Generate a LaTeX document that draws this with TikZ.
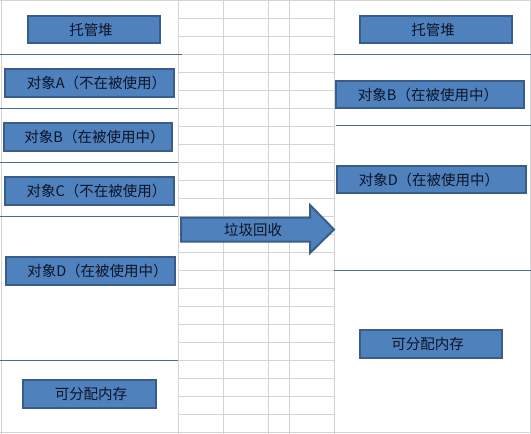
\documentclass[tikz,border=0pt]{standalone}
\usepackage{fontspec}
\newfontfamily\cjk{Noto Sans CJK SC}
\definecolor{boxfill}{HTML}{4F81BD}
\definecolor{boxline}{HTML}{385D8A}
\definecolor{sepline}{HTML}{4A6B92}
\definecolor{gridc}{HTML}{D4D4D4}
\definecolor{txt}{HTML}{0C1428}
\tikzset{
  box/.style={draw=boxline, fill=boxfill, line width=2.2pt, inner sep=0pt,
    text=txt, font=\cjk\fontsize{14.5}{15}\selectfont},
  sep/.style={draw=sepline, line width=0.9pt},
  gridl/.style={draw=gridc, line width=0.7pt},
  lbl/.style={text=txt, font=\cjk\fontsize{14.5}{15}\selectfont, inner sep=0pt}
}
\begin{document}
\begin{tikzpicture}[x=1pt,y=-1pt]
\useasboundingbox (0,0) rectangle (531,434);
\fill[white] (0,0) rectangle (531,434);
% grid in middle
\foreach \yy in {18,36,...,432} \draw[gridl] (178,\yy) -- (334,\yy);
\foreach \xx in {178,223,268,289,334} \draw[gridl] (\xx,0) -- (\xx,434);
\draw[gridl] (1,0) -- (1,434);
\draw[gridl] (530,0) -- (530,434);
\draw[gridl] (0,432.5) -- (531,432.5);
\draw[gridl] (0,0.5) -- (531,0.5);
% separators left
\draw[sep] (0,54) -- (182,54);
\draw[sep] (0,108) -- (178,108);
\draw[sep] (0,162) -- (178,162);
\draw[sep] (0,216) -- (178,216);
\draw[sep] (0,360) -- (178,360);
% separators right
\draw[sep] (334,54) -- (531,54);
\draw[sep] (336,125) -- (531,125);
\draw[sep] (334,270) -- (531,270);
% left boxes
\node[box, minimum width=132pt, minimum height=27pt] (l0) at (94,29.5) {托管堆\hspace*{6pt}};
\node[box, minimum width=169pt, minimum height=28pt] (la) at (89.5,83) {\hspace*{14pt}对象A（不在被使用）};
\node[box, minimum width=168pt, minimum height=28pt] (lb) at (88,137) {\hspace*{13pt}对象B（在被使用中）};
\node[box, minimum width=169pt, minimum height=28pt] (lc) at (89.5,191) {\hspace*{14pt}对象C（不在被使用）};
\node[box, minimum width=169pt, minimum height=28pt] (ld) at (90.5,271) {\hspace*{14pt}对象D（在被使用中）};
\node[box, minimum width=133pt, minimum height=28pt] (lm) at (89.5,394) {\hspace*{3pt}可分配内存};
% right boxes
\node[box, minimum width=152pt, minimum height=27pt] (r0) at (436,29.5) {托管堆\hspace*{6pt}};
\node[box, minimum width=188pt, minimum height=27pt] (rb) at (430,94.5) {对象B（在被使用中）\hspace*{4pt}};
\node[box, minimum width=189pt, minimum height=27pt] (rd) at (431.5,179.5) {对象D（在被使用中）\hspace*{5pt}};
\node[box, minimum width=142pt, minimum height=28pt] (rm) at (431,344) {可分配内存\hspace*{7pt}};
% arrow
\draw[draw=boxline, fill=boxfill, line width=2pt, line join=miter]
  (181,217.5) -- (310,217.5) -- (310,205) -- (334,229.5) -- (310,253) -- (310,241.5) -- (181,241.5) -- cycle;
\node[lbl] (gc) at (253,229.5) {垃圾回收};
\end{tikzpicture}
\end{document}
